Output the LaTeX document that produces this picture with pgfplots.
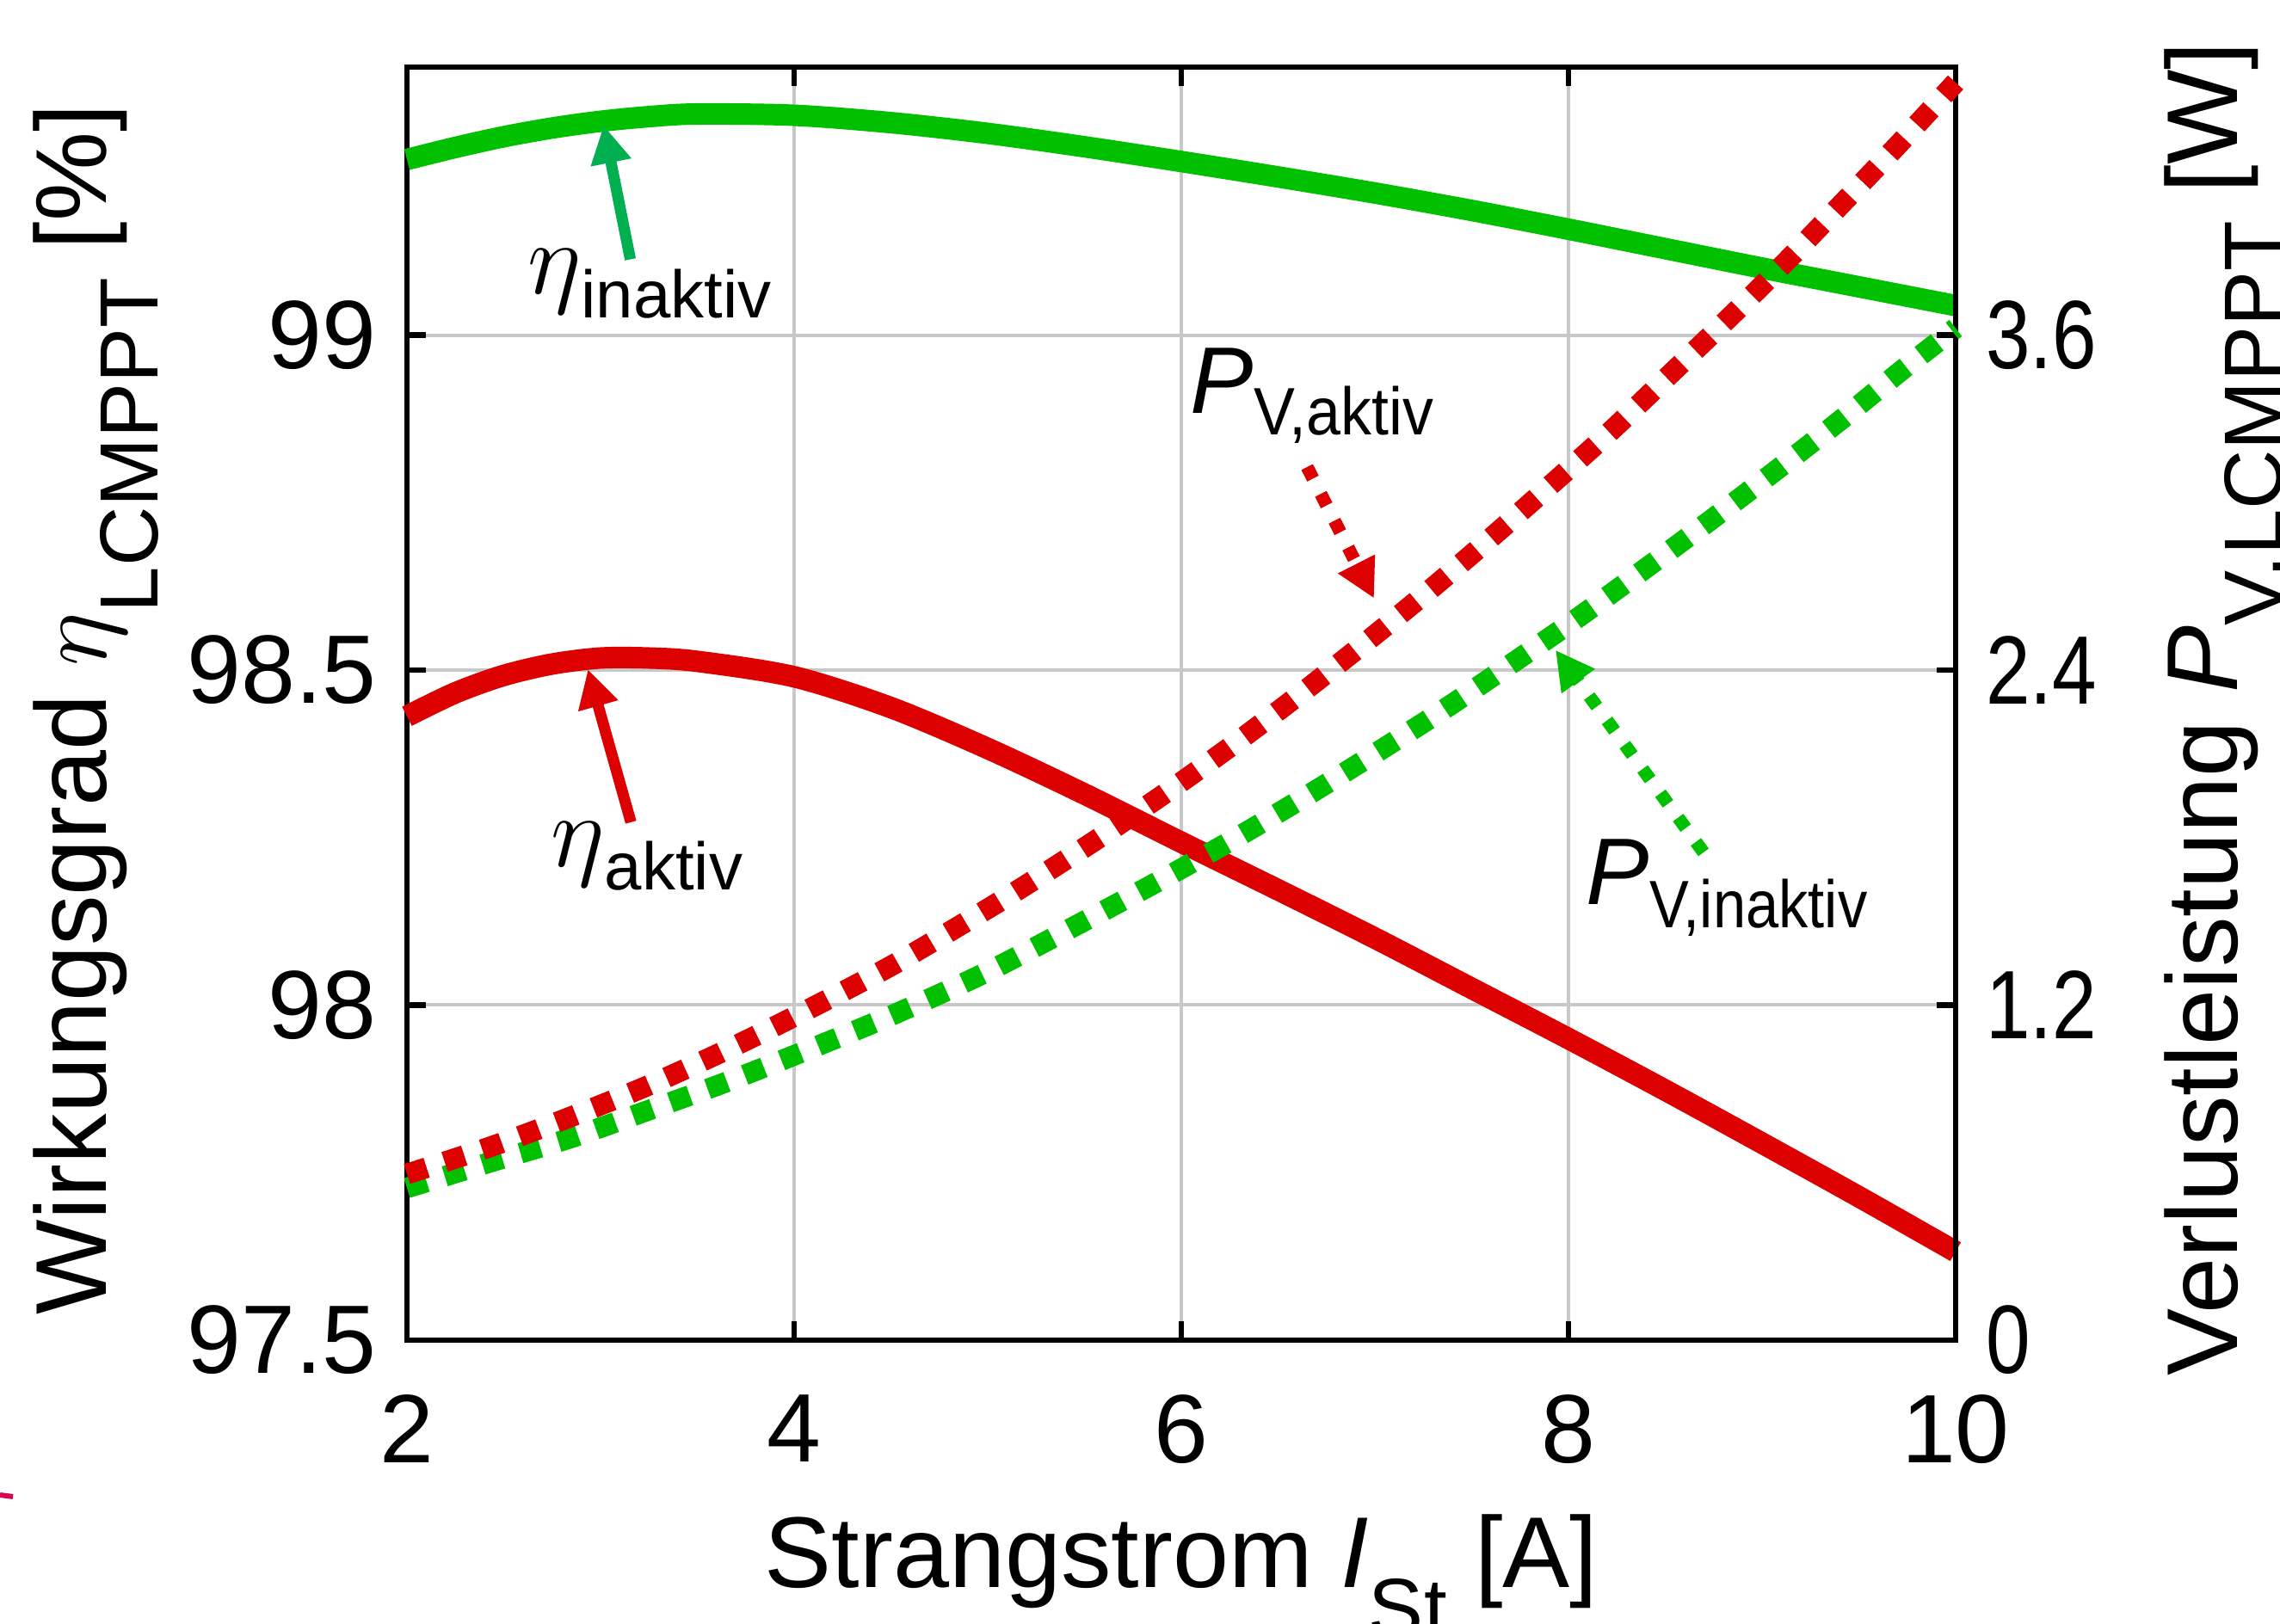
\documentclass[border=0pt]{standalone}
\usepackage{fontspec}
\setmainfont{Liberation Sans}
\usepackage{amsmath}
\usepackage{graphicx}
\usepackage{pgfplots}
\usepackage{pgfplotstable}
\pgfplotsset{compat=1.18}
\usetikzlibrary{arrows.meta}
\definecolor{cred}{RGB}{221,0,0}
\definecolor{cgreen}{RGB}{0,192,0}
\definecolor{carrowgreen}{RGB}{0,176,80}
\definecolor{cgrid}{RGB}{200,200,200}
\definecolor{ccrimson}{RGB}{220,0,80}
\newcommand{\tickfont}{\fontsize{11.3}{13}\selectfont}
\newcommand{\labfont}{\fontsize{11.7}{14}\selectfont}

\pgfplotstableread{
x y
2 98.431
2.25 98.466
2.5 98.492
2.75 98.509
3 98.518
3.25 98.518
3.5 98.513
4 98.490
4.5 98.444
5 98.383
5.5 98.315
6 98.243
6.5 98.172
7 98.100
7.5 98.025
8 97.950
8.5 97.873
9 97.794
9.5 97.714
10 97.632
}\etaaktiv

\pgfplotstableread{
x y
2 99.262
2.25 99.280
2.5 99.296
2.75 99.309
3 99.319
3.25 99.326
3.5 99.330
4 99.328
4.5 99.317
5 99.301
5.5 99.281
6 99.259
6.5 99.236
7 99.212
7.5 99.186
8 99.158
8.5 99.129
9 99.100
9.5 99.072
10 99.044
}\etainaktiv

\pgfplotstableread{
x y
2 0.595
2.446 0.696
2.84 0.798
3.23 0.907
3.61 1.026
3.987 1.154
4.5 1.340
5 1.545
5.3 1.675
5.609 1.814
5.957 1.978
6.298 2.148
6.631 2.323
6.975 2.512
7.28 2.685
7.61 2.880
7.91 3.064
8.22 3.257
8.526 3.460
8.833 3.664
9.131 3.868
9.423 4.078
9.713 4.289
10 4.505
}\pvaktiv

\pgfplotstableread{
x y
2 0.545
2.453 0.642
2.855 0.726
3.251 0.824
3.645 0.923
4.036 1.030
4.5 1.162
5 1.320
5.554 1.521
5.923 1.659
6.288 1.801
6.647 1.949
7.003 2.102
7.357 2.259
7.7 2.420
8.05 2.588
8.4 2.765
8.7 2.919
9.04 3.098
9.387 3.285
9.72 3.473
10 3.625
}\pvinaktiv

\begin{document}
\begin{tikzpicture}
\path[use as bounding box] (-47.3pt,-33pt) rectangle (217.7pt,155.8pt);
\begin{axis}[
  at={(0pt,0pt)}, anchor=south west,
  scale only axis, width=180pt, height=148pt,
  xmin=2, xmax=10, ymin=97.5, ymax=99.4,
  xtick={2,4,6,8,10}, xticklabels={2,4,6,8,10},
  ytick={97.5,98,98.5,99}, yticklabels={97.5,98,98.5,99},
  tick align=inside, major tick length=2.2pt,
  xtick pos=both, ytick pos=left, xticklabel pos=lower,
  grid=major,
  major grid style={cgrid, line width=0.4pt},
  axis line style={line width=0.65pt},
  every tick/.style={black, line width=0.65pt},
  tick label style={font=\tickfont},
  xticklabel style={yshift=-2.8pt},
  /pgf/number format/assume math mode=true,
  clip=false,
]
\addplot[cgreen, line width=2.5pt, smooth] table {\etainaktiv};
\addplot[cred, line width=2.5pt, smooth] table {\etaaktiv};

\draw[carrowgreen, line width=1.3pt, -{Triangle[length=4.4pt,width=4.5pt]}]
  (axis cs:3.154,99.113) -- (axis cs:3.016,99.313);
\draw[cred, line width=1.3pt, -{Triangle[length=4.4pt,width=4.5pt]}]
  (axis cs:3.157,98.273) -- (axis cs:2.935,98.501);
\draw[cred, line width=1.5pt, dash pattern=on 1.5pt off 2pt, -{Triangle[length=4.5pt,width=4.5pt]}]
  (axis cs:6.65,98.803) -- (axis cs:6.996,98.607);
\draw[cgreen, line width=1.5pt, dash pattern=on 1.5pt off 2pt, -{Triangle[length=4.5pt,width=4.5pt]}]
  (axis cs:8.698,98.228) -- (axis cs:7.933,98.530);

\node[anchor=base west, inner sep=0pt] at (axis cs:2.615,99.062)
  {\fontsize{12.6}{12}\selectfont$\eta$\raisebox{-2.8pt}{\fontsize{7.8}{8}\selectfont inaktiv}};
\node[anchor=base west, inner sep=0pt] at (axis cs:2.735,98.207)
  {\fontsize{12.6}{12}\selectfont$\eta$\raisebox{-2.7pt}{\fontsize{7.8}{8}\selectfont aktiv}};
\node[anchor=base west, inner sep=0pt] at (axis cs:6.04,98.883)
  {\fontsize{11}{11}\selectfont\textit{P}\raisebox{-2.5pt}{\fontsize{7.8}{8}\selectfont\scalebox{0.92}[1]{V,aktiv}}};
\node[anchor=base west, inner sep=0pt] at (axis cs:8.084,98.150)
  {\fontsize{11}{11}\selectfont\textit{P}\raisebox{-2.7pt}{\fontsize{7.8}{8}\selectfont\scalebox{0.88}[1]{V,inaktiv}}};
\end{axis}

\begin{axis}[
  at={(0pt,0pt)}, anchor=south west,
  scale only axis, width=180pt, height=148pt,
  xmin=2, xmax=10, ymin=0, ymax=4.56,
  axis x line=none, axis y line*=right,
  ytick={0,1.2,2.4,3.6},
  yticklabels={\scalebox{0.82}[1]{0},\scalebox{0.82}[1]{1.2},\scalebox{0.82}[1]{2.4},\scalebox{0.82}[1]{3.6}},
  tick align=inside, major tick length=2.2pt,
  axis line style={line width=0.65pt},
  every tick/.style={black, line width=0.65pt},
  tick label style={font=\tickfont},
  /pgf/number format/assume math mode=true,
  clip=false,
]
\addplot[cgreen, line width=2.4pt, line cap=butt, dash pattern=on 2.4pt off 2.2pt, smooth] table {\pvinaktiv};
\addplot[cred, line width=2.4pt, line cap=butt, dash pattern=on 2.4pt off 2.2pt, smooth] table {\pvaktiv};
\end{axis}

\node[rotate=90, anchor=base, font=\labfont, inner sep=0pt] at (-34.9pt,73.3pt)
  {Wirkungsgrad $\eta$\raisebox{-6pt}{\fontsize{9.6}{10}\selectfont LCMPPT} [\%]};
\node[rotate=90, anchor=base, font=\labfont, inner sep=0pt] at (212.7pt,73.4pt)
  {Verlustleistung \textit{P}\raisebox{-5.2pt}{\fontsize{9.6}{10}\selectfont V,LCMPPT} [W]};
\node[anchor=base, font=\labfont, inner sep=0pt] at (90pt,-28.8pt)
  {Strangstrom \textit{I}\raisebox{-5.7pt}{\fontsize{9.6}{10}\selectfont St} [A]};
\draw[ccrimson, line width=0.6pt] (-47.3pt,-18.0pt) -- (-45.8pt,-18.2pt);
\end{tikzpicture}
\end{document}
